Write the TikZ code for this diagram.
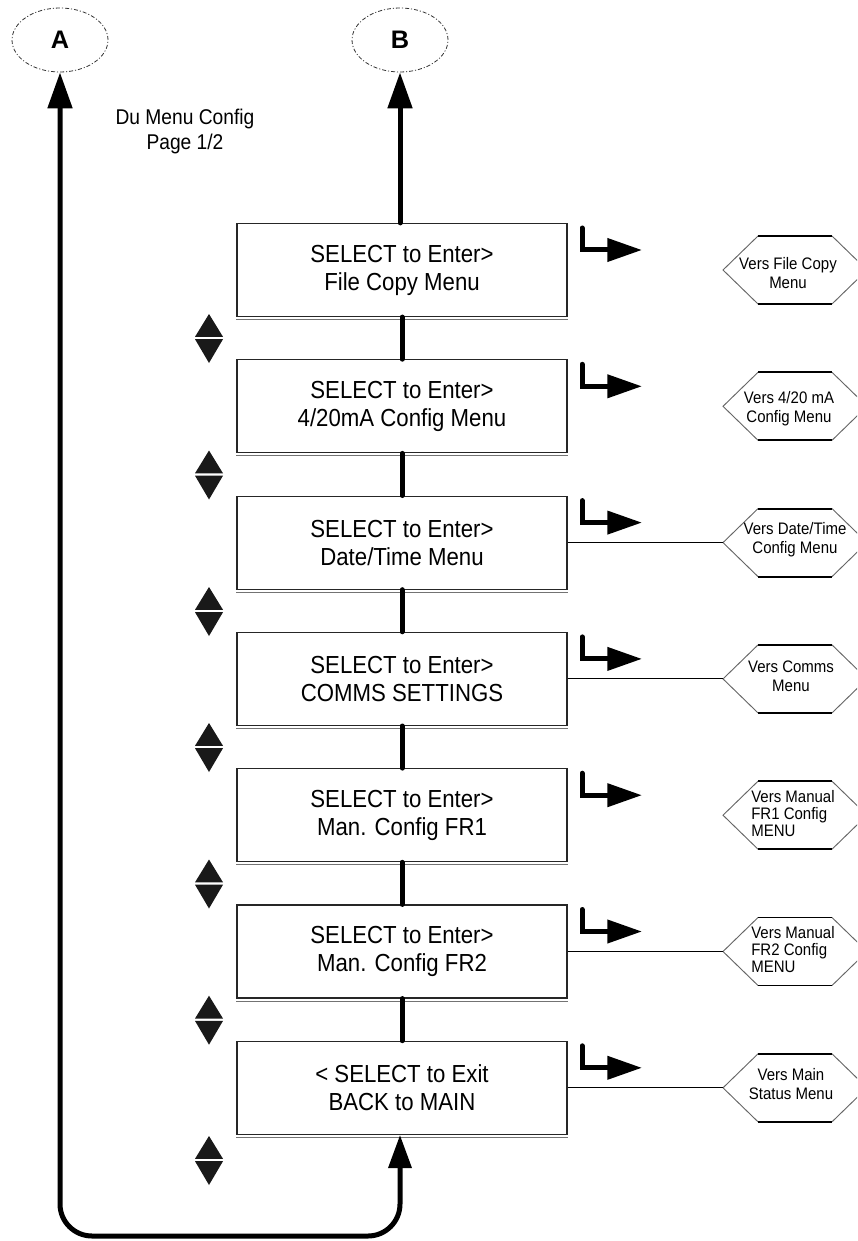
\documentclass[tikz,border=0pt]{standalone}
\usepackage{fontspec}
\setmainfont{Liberation Sans}
\newfontfamily\narrowsans{Liberation Sans}[FakeStretch=0.9]
\usetikzlibrary{arrows.meta,calc,shapes.geometric}

\tikzset{
  menubox/.style={draw=black!85, line width=0.9pt, minimum width=247.5pt,
    minimum height=69.75pt, inner sep=0pt, align=center,
    font=\narrowsans\fontsize{18.5}{21}\selectfont},
  boxshadow/.style={draw=black!55, line width=0.7pt},
  terminal/.style={ellipse, draw=black!80, line width=0.6pt,
    dash pattern=on 3pt off 1.5pt on 0.8pt off 1.5pt,
    minimum width=72pt, minimum height=48pt, inner sep=0pt,
    font=\bfseries\fontsize{19}{19}\selectfont},
  link/.style={line width=3.75pt, line cap=round},
  bigtip/.style={-{Triangle[length=27pt,width=18pt]}},
  hextext/.style={align=center, inner sep=0pt,
    font=\narrowsans\fontsize{12.5}{14.25}\selectfont},
  hexlist/.style={align=left, anchor=west, inner sep=0pt,
    font=\narrowsans\fontsize{12.5}{12.75}\selectfont},
  sideline/.style={draw=black, line width=0.7pt},
  updown/.pic={
    \fill[black!90] (-14,-1.2) -- (14,-1.2) -- (0,-24) -- cycle;
    \fill[black!90] (-14,1.2) -- (14,1.2) -- (0,25) -- cycle;
  },
  enterarrow/.pic={
    \draw[line width=3.75pt, line cap=round,
      -{Triangle[length=26pt,width=17pt]}] (0,0) |- (60,22);
  },
  hexframe/.pic={
    \draw[black!60, line width=0.7pt] (35,-34) -- (0,0) -- (35,34)
      (109,-34) -- (144,0) -- (109,34);
    \draw[black, line width=1.4pt] (35,-34) -- (109,-34) (35,34) -- (109,34);
  }
}

\begin{document}
\begin{tikzpicture}[x=0.75pt,y=-0.75pt]
\useasboundingbox (0,0) rectangle (857,1241);
\clip (0,0) rectangle (857,1241);

% off-page connectors
\node[terminal] (A) at (60,40) {A};
\node[terminal] (B) at (400,40) {B};

\node[align=center, inner sep=0pt, font=\narrowsans\fontsize{16}{18.75}\selectfont]
  (title) at (185,131) {Du Menu Config\\Page 1/2};

% menu entries
\node[menubox] (b1) at (402,270.0) {SELECT to Enter>\\File Copy Menu};
\node[menubox] (b2) at (402,406.3) {SELECT to Enter>\\4/20mA Config Menu};
\node[menubox] (b3) at (402,542.6) {SELECT to Enter>\\Date/Time Menu};
\node[menubox] (b4) at (402,678.9) {SELECT to Enter>\\COMMS SETTINGS};
\node[menubox] (b5) at (402,815.2) {SELECT to Enter>\\Man. Config FR1};
\node[menubox] (b6) at (402,951.5) {SELECT to Enter>\\Man. Config FR2};
\node[menubox] (b7) at (402,1087.8) {< SELECT to Exit\\BACK to MAIN};

\foreach \b in {b1,b2,b3,b4,b5,b6,b7}
  \draw[boxshadow] ($(\b.south west)+(0,2.5)$) -- ($(\b.south east)+(0,2.5)$);

% vertical flow between entries
\draw[link] (b1.south) -- (b2.north);
\draw[link] (b2.south) -- (b3.north);
\draw[link] (b3.south) -- (b4.north);
\draw[link] (b4.south) -- (b5.north);
\draw[link] (b5.south) -- (b6.north);
\draw[link] (b6.south) -- (b7.north);
\draw[link, bigtip] (b1.north -| B.south) -- (B.south);

% return loop
\coordinate (loopL) at (60,1236);
\coordinate (loopR) at (400,1236);
\draw[line width=3.75pt, rounded corners=24pt,
  {Triangle[length=27pt,width=18pt]}-{Triangle[length=25pt,width=17pt]}]
  (A.south) -- (loopL) -- (loopR) -- (b7.south -| loopR);

% up/down key symbols
\foreach \y in {338,474.5,611,747,883.5,1019.7,1160}
  \pic at (209,\y) {updown};

% enter key symbols
\foreach \c in {270.0,406.3,542.6,678.9,815.2,951.5,1087.8}
  \pic at (582,\c-42) {enterarrow};

% target menus
\coordinate (h1) at (723,270.0);
\coordinate (h2) at (723,406.3);
\coordinate (h3) at (723,542.6);
\coordinate (h4) at (723,678.9);
\coordinate (h5) at (723,815.2);
\coordinate (h6) at (723,951.5);
\coordinate (h7) at (723,1087.8);
\foreach \h in {h1,h2,h3,h4,h5,h6,h7}
  \pic at (\h) {hexframe};

\node[hextext] (t1) at (788,273) {Vers File Copy\\Menu};
\node[hextext] (t2) at (789,409) {Vers 4/20 mA\\Config Menu};
\node[hextext] (t3) at (795,540) {Vers Date/Time\\Config Menu};
\node[hextext] (t4) at (791,676) {Vers Comms\\Menu};
\node[hexlist] (t5) at (751,814) {Vers Manual\\FR1 Config\\MENU};
\node[hexlist] (t6) at (751,950) {Vers Manual\\FR2 Config\\MENU};
\node[hextext] (t7) at (791,1084) {Vers Main\\Status Menu};

\draw[sideline] (b3.east) -- (h3);
\draw[sideline] (b4.east) -- (h4);
\draw[sideline] (b6.east) -- (h6);
\draw[sideline] (b7.east) -- (h7);
\end{tikzpicture}
\end{document}
